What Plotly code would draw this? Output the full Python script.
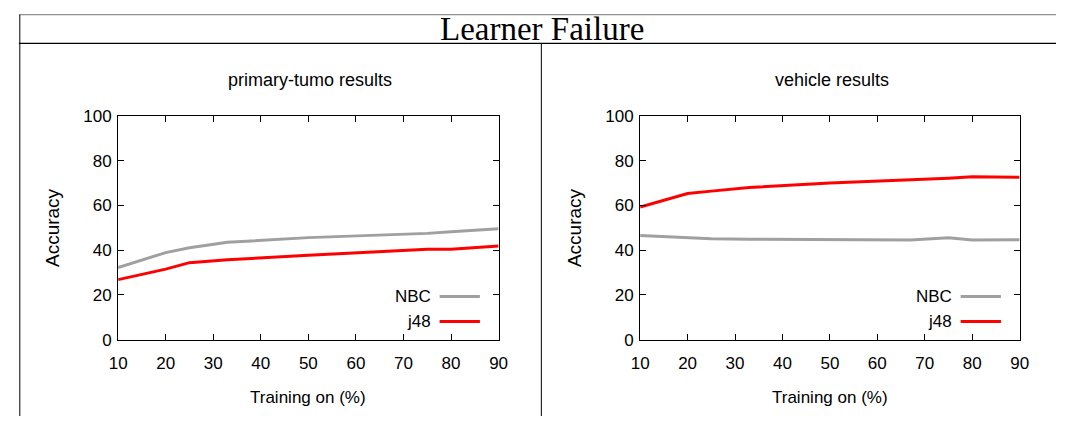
import plotly.graph_objects as go

W, H = 1065, 426

# ---- data ----
train_pct = [10, 20, 25, 33, 50, 67, 75, 80, 90]
tumo_nbc = [32.2, 38.9, 41.1, 43.5, 45.6, 46.8, 47.5, 48.2, 49.6]
tumo_j48 = [26.8, 31.5, 34.4, 35.7, 37.7, 39.7, 40.4, 40.4, 41.9]

veh_pct = [10, 20, 25, 33, 50, 67, 75, 80, 90]
veh_nbc = [46.6, 45.4, 45.1, 44.9, 44.8, 44.5, 45.5, 44.5, 44.7]
veh_j48 = [59.3, 65.3, 66.4, 68.0, 70.0, 71.3, 72.2, 72.8, 72.6]

x_ticks = [10, 20, 30, 40, 50, 60, 70, 80, 90]
y_ticks = [0, 20, 40, 60, 80, 100]
panel_titles = ["primary-tumo results", "vehicle results"]
series_names = ["NBC", "j48"]
main_title = "Learner Failure"

GRAY = "#a0a0a0"
RED = "#ff0000"
SANS = "Liberation Sans Narrow, Liberation Sans, Arial, sans-serif"
SERIF = "Liberation Serif, DejaVu Serif, serif"


def px(x):
    return min(max(x / W, 0), 1)


def py(y):
    return min(max(1 - y / H, 0), 1)


fig = go.Figure()

panels = [
    dict(xa="x", ya="y", x0=111, x1=498, nbc=tumo_nbc, j48=tumo_j48, xs=train_pct),
    dict(xa="x2", ya="y2", x0=642, x1=1028, nbc=veh_nbc, j48=veh_j48, xs=veh_pct),
]
y_top, y_bot = 112, 346

for i, p in enumerate(panels):
    fig.add_trace(go.Scatter(x=p["xs"], y=p["nbc"], mode="lines", name=series_names[0],
                             line=dict(color=GRAY, width=3), xaxis=p["xa"], yaxis=p["ya"],
                             showlegend=False))
    fig.add_trace(go.Scatter(x=p["xs"], y=p["j48"], mode="lines", name=series_names[1],
                             line=dict(color=RED, width=3), xaxis=p["xa"], yaxis=p["ya"],
                             showlegend=False))

axis_common = dict(showgrid=False, zeroline=False, showline=True, linecolor="black",
                   linewidth=1, mirror="allticks", ticks="inside", ticklen=6,
                   tickcolor="black", tickfont=dict(family=SANS, size=17, color="black"))

layout = dict(width=W, height=H, margin=dict(l=0, r=0, t=0, b=0),
              paper_bgcolor="white", plot_bgcolor="white", showlegend=False)

for i, p in enumerate(panels):
    sfx = "" if i == 0 else str(i + 1)
    layout["xaxis" + sfx] = dict(axis_common, domain=[px(p["x0"]), px(p["x1"])],
                                 range=[10, 90], tickvals=x_ticks, anchor="y" + sfx,
                                 ticklabelstandoff=8)
    layout["yaxis" + sfx] = dict(axis_common, domain=[py(y_bot), py(y_top)],
                                 range=[0, 100], tickvals=y_ticks, anchor="x" + sfx,
                                 ticklabelstandoff=2)

fig.update_layout(**layout)

annotations = []
shapes = []
# main title
annotations.append(dict(text=main_title, x=px(542), y=py(21), xref="paper", yref="paper",
                        showarrow=False, font=dict(family=SERIF, size=33, color="black"),
                        xanchor="center", yanchor="middle"))
for i, p in enumerate(panels):
    cx = (p["x0"] + p["x1"]) / 2
    annotations.append(dict(text=panel_titles[i], x=px(cx + 2), y=py(74), xref="paper", yref="paper",
                            showarrow=False, font=dict(family=SANS, size=18, color="black"),
                            xanchor="center", yanchor="middle"))
    annotations.append(dict(text="Training on (%)", x=px(cx), y=py(407), xref="paper", yref="paper",
                            showarrow=False, font=dict(family=SANS, size=17, color="black"),
                            xanchor="center", yanchor="middle"))
    annotations.append(dict(text="Accuracy", x=px(p["x0"] - 66), y=py(229), xref="paper", yref="paper",
                            showarrow=False, textangle=-90,
                            font=dict(family=SANS, size=19, color="black"),
                            xanchor="center", yanchor="middle"))
    # legend
    for j, (nm, col, ly) in enumerate([(series_names[0], GRAY, 301), (series_names[1], RED, 327)]):
        annotations.append(dict(text=nm, x=px(p["x1"] - 67), y=py(ly), xref="paper", yref="paper",
                                showarrow=False, font=dict(family=SANS, size=17, color="black"),
                                xanchor="right", yanchor="middle"))
        shapes.append(dict(type="line", xref="paper", yref="paper",
                           x0=px(p["x1"] - 60), x1=px(p["x1"] - 19), y0=py(ly), y1=py(ly),
                           line=dict(color=col, width=3)))

# table borders
shapes.append(dict(type="line", xref="paper", yref="paper", x0=px(10), x1=px(1065),
                   y0=py(6), y1=py(6), line=dict(color="#777777", width=1)))
shapes.append(dict(type="line", xref="paper", yref="paper", x0=px(10), x1=px(1065),
                   y0=py(36), y1=py(36), line=dict(color="black", width=1.3)))
shapes.append(dict(type="line", xref="paper", yref="paper", x0=px(11), x1=px(11),
                   y0=py(6), y1=py(426), line=dict(color="black", width=1)))
shapes.append(dict(type="line", xref="paper", yref="paper", x0=px(541.5), x1=px(541.5),
                   y0=py(36), y1=py(426), line=dict(color="black", width=1)))

fig.update_layout(annotations=annotations, shapes=shapes)
fig.write_html("out.html")
